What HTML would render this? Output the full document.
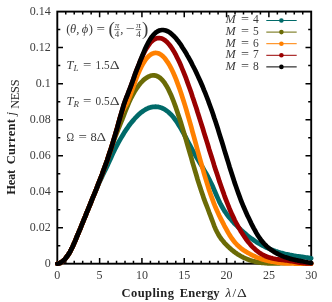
<!DOCTYPE html>
<html><head><meta charset="utf-8"><title>plot</title>
<style>html,body{margin:0;padding:0;background:#fff;width:332px;height:302px;overflow:hidden}</style></head>
<body>
<svg width="332" height="302" viewBox="0 0 332 302" style="position:absolute;left:0;top:0;will-change:transform">
<rect width="332" height="302" fill="#fff"/>
<rect x="57.3" y="11.6" width="253.9" height="252.1" fill="none" stroke="#000" stroke-width="1.9"/>
<path d="M65.76,263.7v-3.0M65.76,11.6v3.0M74.23,263.7v-3.0M74.23,11.6v3.0M82.69,263.7v-3.0M82.69,11.6v3.0M91.15,263.7v-3.0M91.15,11.6v3.0M99.62,263.7v-5.7M99.62,11.6v5.7M108.08,263.7v-3.0M108.08,11.6v3.0M116.54,263.7v-3.0M116.54,11.6v3.0M125.01,263.7v-3.0M125.01,11.6v3.0M133.47,263.7v-3.0M133.47,11.6v3.0M141.93,263.7v-5.7M141.93,11.6v5.7M150.40,263.7v-3.0M150.40,11.6v3.0M158.86,263.7v-3.0M158.86,11.6v3.0M167.32,263.7v-3.0M167.32,11.6v3.0M175.79,263.7v-3.0M175.79,11.6v3.0M184.25,263.7v-5.7M184.25,11.6v5.7M192.71,263.7v-3.0M192.71,11.6v3.0M201.18,263.7v-3.0M201.18,11.6v3.0M209.64,263.7v-3.0M209.64,11.6v3.0M218.10,263.7v-3.0M218.10,11.6v3.0M226.57,263.7v-5.7M226.57,11.6v5.7M235.03,263.7v-3.0M235.03,11.6v3.0M243.49,263.7v-3.0M243.49,11.6v3.0M251.96,263.7v-3.0M251.96,11.6v3.0M260.42,263.7v-3.0M260.42,11.6v3.0M268.88,263.7v-5.7M268.88,11.6v5.7M277.35,263.7v-3.0M277.35,11.6v3.0M285.81,263.7v-3.0M285.81,11.6v3.0M294.27,263.7v-3.0M294.27,11.6v3.0M302.74,263.7v-3.0M302.74,11.6v3.0M57.3,245.69h3.0M311.2,245.69h-3.0M57.3,227.69h5.7M311.2,227.69h-5.7M57.3,209.68h3.0M311.2,209.68h-3.0M57.3,191.67h5.7M311.2,191.67h-5.7M57.3,173.66h3.0M311.2,173.66h-3.0M57.3,155.66h5.7M311.2,155.66h-5.7M57.3,137.65h3.0M311.2,137.65h-3.0M57.3,119.64h5.7M311.2,119.64h-5.7M57.3,101.64h3.0M311.2,101.64h-3.0M57.3,83.63h5.7M311.2,83.63h-5.7M57.3,65.62h3.0M311.2,65.62h-3.0M57.3,47.61h5.7M311.2,47.61h-5.7M57.3,29.61h3.0M311.2,29.61h-3.0" stroke="#000" stroke-width="1.5" fill="none"/>
<path d="M57.3,263.7 L58.6,263.5 L59.9,263.1 L61.1,262.4 L62.4,261.5 L63.7,260.4 L65.0,259.1 L66.2,257.5 L67.5,255.8 L68.8,253.9 L70.1,251.8 L71.3,249.3 L72.6,246.7 L73.9,243.8 L75.2,240.9 L76.4,237.8 L77.7,234.8 L79.0,231.7 L80.3,228.6 L81.5,225.5 L82.8,222.3 L84.1,219.2 L85.4,216.1 L86.6,212.9 L87.9,209.8 L89.2,206.7 L90.5,203.6 L91.7,200.4 L93.0,197.3 L94.3,194.2 L95.6,191.2 L96.9,188.1 L98.1,185.2 L99.4,182.3 L100.7,179.5 L102.0,176.7 L103.2,174.1 L104.5,171.5 L105.8,168.9 L107.1,166.2 L108.3,163.5 L109.6,160.7 L110.9,157.9 L112.2,155.1 L113.4,152.4 L114.7,149.7 L116.0,147.2 L117.3,144.7 L118.5,142.4 L119.8,140.1 L121.1,137.9 L122.4,135.7 L123.6,133.7 L124.9,131.6 L126.2,129.7 L127.5,127.8 L128.7,126.0 L130.0,124.3 L131.3,122.6 L132.6,121.1 L133.9,119.6 L135.1,118.1 L136.4,116.8 L137.7,115.5 L139.0,114.3 L140.2,113.2 L141.5,112.2 L142.8,111.3 L144.1,110.4 L145.3,109.6 L146.6,108.9 L147.9,108.3 L149.2,107.8 L150.4,107.4 L151.7,107.1 L153.0,106.9 L154.3,106.8 L155.5,106.7 L156.8,106.8 L158.1,106.9 L159.4,107.2 L160.6,107.6 L161.9,108.0 L163.2,108.6 L164.5,109.3 L165.7,110.1 L167.0,111.0 L168.3,112.0 L169.6,113.2 L170.9,114.4 L172.1,115.8 L173.4,117.3 L174.7,119.0 L176.0,120.7 L177.2,122.6 L178.5,124.6 L179.8,126.7 L181.1,128.9 L182.3,131.1 L183.6,133.4 L184.9,135.8 L186.2,138.2 L187.4,140.6 L188.7,143.0 L190.0,145.4 L191.3,147.8 L192.5,150.1 L193.8,152.5 L195.1,154.7 L196.4,157.0 L197.6,159.1 L198.9,161.3 L200.2,163.4 L201.5,165.5 L202.8,167.7 L204.0,169.8 L205.3,172.1 L206.6,174.3 L207.9,176.7 L209.1,179.1 L210.4,181.7 L211.7,184.3 L213.0,187.1 L214.2,190.0 L215.5,193.0 L216.8,196.0 L218.1,198.9 L219.3,201.6 L220.6,204.2 L221.9,206.5 L223.2,208.7 L224.4,210.8 L225.7,212.7 L227.0,214.5 L228.3,216.2 L229.5,217.8 L230.8,219.3 L232.1,220.8 L233.4,222.2 L234.6,223.6 L235.9,224.9 L237.2,226.2 L238.5,227.5 L239.8,228.7 L241.0,229.9 L242.3,231.1 L243.6,232.2 L244.9,233.3 L246.1,234.4 L247.4,235.5 L248.7,236.5 L250.0,237.5 L251.2,238.4 L252.5,239.3 L253.8,240.2 L255.1,241.1 L256.3,241.9 L257.6,242.7 L258.9,243.5 L260.2,244.2 L261.4,244.9 L262.7,245.6 L264.0,246.3 L265.3,246.9 L266.5,247.6 L267.8,248.1 L269.1,248.7 L270.4,249.3 L271.6,249.8 L272.9,250.3 L274.2,250.7 L275.5,251.2 L276.8,251.6 L278.0,252.0 L279.3,252.4 L280.6,252.8 L281.9,253.1 L283.1,253.4 L284.4,253.8 L285.7,254.1 L287.0,254.3 L288.2,254.6 L289.5,254.9 L290.8,255.1 L292.1,255.3 L293.3,255.6 L294.6,255.8 L295.9,256.0 L297.2,256.2 L298.4,256.4 L299.7,256.6 L301.0,256.7 L302.3,256.9 L303.5,257.1 L304.8,257.3 L306.1,257.5 L307.4,257.6 L308.6,257.8 L309.9,258.0 L311.2,258.2" fill="none" stroke="#006a69" stroke-width="4.7" stroke-linecap="round" stroke-linejoin="round"/>
<path d="M57.3,263.7 L58.6,263.5 L59.9,263.1 L61.1,262.4 L62.4,261.5 L63.7,260.4 L65.0,259.1 L66.2,257.5 L67.5,255.8 L68.8,253.9 L70.1,251.8 L71.3,249.3 L72.6,246.7 L73.9,243.8 L75.2,240.9 L76.4,237.8 L77.7,234.8 L79.0,231.7 L80.3,228.6 L81.5,225.5 L82.8,222.3 L84.1,219.2 L85.4,216.1 L86.6,212.9 L87.9,209.8 L89.2,206.7 L90.5,203.5 L91.7,200.4 L93.0,197.2 L94.3,194.1 L95.6,190.9 L96.9,187.7 L98.1,184.4 L99.4,181.2 L100.7,177.9 L102.0,174.5 L103.2,171.1 L104.5,167.7 L105.8,164.1 L107.1,160.4 L108.3,156.6 L109.6,152.8 L110.9,148.9 L112.2,145.1 L113.4,141.6 L114.7,138.2 L116.0,134.9 L117.3,131.7 L118.5,128.5 L119.8,125.4 L121.1,122.2 L122.4,119.0 L123.6,115.8 L124.9,112.5 L126.2,109.2 L127.5,106.1 L128.7,103.1 L130.0,100.3 L131.3,97.6 L132.6,95.1 L133.9,92.8 L135.1,90.7 L136.4,88.7 L137.7,86.8 L139.0,85.1 L140.2,83.5 L141.5,82.1 L142.8,80.8 L144.1,79.6 L145.3,78.6 L146.6,77.7 L147.9,76.9 L149.2,76.3 L150.4,75.8 L151.7,75.5 L153.0,75.4 L154.3,75.4 L155.5,75.6 L156.8,76.0 L158.1,76.6 L159.4,77.4 L160.6,78.4 L161.9,79.7 L163.2,81.1 L164.5,82.8 L165.7,84.7 L167.0,86.8 L168.3,89.2 L169.6,91.9 L170.9,94.7 L172.1,97.7 L173.4,100.9 L174.7,104.3 L176.0,107.9 L177.2,111.5 L178.5,115.4 L179.8,119.3 L181.1,123.3 L182.3,127.5 L183.6,131.7 L184.9,136.0 L186.2,140.3 L187.4,144.7 L188.7,149.1 L190.0,153.5 L191.3,157.9 L192.5,162.3 L193.8,166.7 L195.1,171.0 L196.4,175.3 L197.6,179.5 L198.9,183.6 L200.2,187.6 L201.5,191.5 L202.8,195.3 L204.0,198.9 L205.3,202.4 L206.6,205.7 L207.9,209.0 L209.1,212.3 L210.4,215.6 L211.7,219.1 L213.0,222.5 L214.2,225.8 L215.5,228.9 L216.8,231.6 L218.1,234.0 L219.3,236.1 L220.6,238.0 L221.9,239.8 L223.2,241.3 L224.4,242.8 L225.7,244.1 L227.0,245.5 L228.3,246.7 L229.5,247.9 L230.8,249.0 L232.1,250.1 L233.4,251.1 L234.6,252.1 L235.9,253.0 L237.2,253.9 L238.5,254.7 L239.8,255.5 L241.0,256.2 L242.3,256.9 L243.6,257.6 L244.9,258.2 L246.1,258.7 L247.4,259.3 L248.7,259.7 L250.0,260.2 L251.2,260.6 L252.5,261.0 L253.8,261.3 L255.1,261.6 L256.3,261.9 L257.6,262.2 L258.9,262.4 L260.2,262.6 L261.4,262.8 L262.7,262.9 L264.0,263.0 L265.3,263.2 L266.5,263.2 L267.8,263.3 L269.1,263.4 L270.4,263.4 L271.6,263.4 L272.9,263.4 L274.2,263.4 L275.5,263.4 L276.8,263.4 L278.0,263.3 L279.3,263.3 L280.6,263.2 L281.9,263.2 L283.1,263.1 L284.4,263.1 L285.7,263.0 L287.0,262.9 L288.2,262.9 L289.5,262.8 L290.8,262.8 L292.1,262.7 L293.3,262.7 L294.6,262.7 L295.9,262.7 L297.2,262.7 L298.4,262.7 L299.7,262.7 L301.0,262.7 L302.3,262.8 L303.5,262.8 L304.8,262.9 L306.1,263.0 L307.4,263.2 L308.6,263.3 L309.9,263.5 L311.2,263.7" fill="none" stroke="#6b6b06" stroke-width="4.7" stroke-linecap="round" stroke-linejoin="round"/>
<path d="M57.3,263.7 L58.6,263.5 L59.9,263.1 L61.1,262.4 L62.4,261.5 L63.7,260.4 L65.0,259.1 L66.2,257.5 L67.5,255.8 L68.8,253.9 L70.1,251.8 L71.3,249.3 L72.6,246.7 L73.9,243.8 L75.2,240.9 L76.4,237.8 L77.7,234.8 L79.0,231.7 L80.3,228.6 L81.5,225.5 L82.8,222.3 L84.1,219.2 L85.4,216.1 L86.6,212.9 L87.9,209.8 L89.2,206.7 L90.5,203.5 L91.7,200.4 L93.0,197.2 L94.3,194.1 L95.6,190.9 L96.9,187.7 L98.1,184.4 L99.4,181.2 L100.7,177.9 L102.0,174.5 L103.2,171.1 L104.5,167.7 L105.8,164.1 L107.1,160.5 L108.3,156.7 L109.6,152.8 L110.9,148.9 L112.2,144.8 L113.4,140.6 L114.7,136.4 L116.0,132.0 L117.3,127.5 L118.5,122.8 L119.8,118.3 L121.1,114.5 L122.4,111.5 L123.6,109.1 L124.9,106.8 L126.2,104.6 L127.5,102.1 L128.7,99.1 L130.0,95.9 L131.3,92.4 L132.6,88.8 L133.9,85.2 L135.1,81.7 L136.4,78.2 L137.7,74.9 L139.0,71.9 L140.2,69.1 L141.5,66.5 L142.8,64.1 L144.1,62.0 L145.3,60.1 L146.6,58.4 L147.9,57.0 L149.2,55.7 L150.4,54.7 L151.7,53.9 L153.0,53.4 L154.3,53.0 L155.5,52.9 L156.8,53.0 L158.1,53.3 L159.4,53.8 L160.6,54.5 L161.9,55.4 L163.2,56.6 L164.5,57.9 L165.7,59.5 L167.0,61.3 L168.3,63.2 L169.6,65.4 L170.9,67.8 L172.1,70.3 L173.4,73.1 L174.7,76.0 L176.0,79.1 L177.2,82.4 L178.5,85.9 L179.8,89.4 L181.1,93.2 L182.3,97.0 L183.6,101.0 L184.9,105.1 L186.2,109.4 L187.4,113.7 L188.7,118.1 L190.0,122.6 L191.3,127.2 L192.5,131.8 L193.8,136.4 L195.1,141.1 L196.4,145.8 L197.6,150.5 L198.9,155.2 L200.2,159.8 L201.5,164.4 L202.8,168.9 L204.0,173.3 L205.3,177.7 L206.6,181.9 L207.9,186.0 L209.1,190.0 L210.4,193.8 L211.7,197.4 L213.0,200.9 L214.2,204.2 L215.5,207.3 L216.8,210.2 L218.1,213.1 L219.3,215.8 L220.6,218.4 L221.9,220.9 L223.2,223.4 L224.4,225.8 L225.7,228.2 L227.0,230.5 L228.3,232.8 L229.5,234.9 L230.8,236.9 L232.1,238.8 L233.4,240.5 L234.6,242.1 L235.9,243.5 L237.2,244.9 L238.5,246.1 L239.8,247.2 L241.0,248.3 L242.3,249.3 L243.6,250.2 L244.9,251.0 L246.1,251.8 L247.4,252.6 L248.7,253.3 L250.0,254.0 L251.2,254.7 L252.5,255.3 L253.8,255.9 L255.1,256.5 L256.3,257.1 L257.6,257.6 L258.9,258.1 L260.2,258.5 L261.4,259.0 L262.7,259.4 L264.0,259.8 L265.3,260.1 L266.5,260.5 L267.8,260.8 L269.1,261.1 L270.4,261.3 L271.6,261.6 L272.9,261.8 L274.2,262.0 L275.5,262.2 L276.8,262.4 L278.0,262.6 L279.3,262.7 L280.6,262.8 L281.9,263.0 L283.1,263.1 L284.4,263.2 L285.7,263.3 L287.0,263.3 L288.2,263.4 L289.5,263.4 L290.8,263.5 L292.1,263.5 L293.3,263.5 L294.6,263.6 L295.9,263.6 L297.2,263.6 L298.4,263.6 L299.7,263.6 L301.0,263.6 L302.3,263.6 L303.5,263.6 L304.8,263.6 L306.1,263.7 L307.4,263.7 L308.6,263.7 L309.9,263.7 L311.2,263.7" fill="none" stroke="#ff8000" stroke-width="4.7" stroke-linecap="round" stroke-linejoin="round"/>
<path d="M57.3,263.7 L58.6,263.5 L59.9,263.1 L61.1,262.4 L62.4,261.5 L63.7,260.4 L65.0,259.1 L66.2,257.5 L67.5,255.8 L68.8,253.9 L70.1,251.8 L71.3,249.3 L72.6,246.7 L73.9,243.8 L75.2,240.9 L76.4,237.8 L77.7,234.8 L79.0,231.7 L80.3,228.6 L81.5,225.5 L82.8,222.3 L84.1,219.2 L85.4,216.1 L86.6,212.9 L87.9,209.8 L89.2,206.7 L90.5,203.5 L91.7,200.4 L93.0,197.2 L94.3,194.1 L95.6,190.9 L96.9,187.7 L98.1,184.4 L99.4,181.2 L100.7,177.9 L102.0,174.5 L103.2,171.1 L104.5,167.7 L105.8,164.1 L107.1,160.5 L108.3,156.7 L109.6,152.8 L110.9,148.9 L112.2,144.8 L113.4,140.6 L114.7,136.4 L116.0,132.0 L117.3,127.6 L118.5,123.0 L119.8,118.4 L121.1,113.9 L122.4,109.5 L123.6,105.3 L124.9,101.5 L126.2,98.0 L127.5,94.8 L128.7,91.7 L130.0,88.4 L131.3,84.9 L132.6,81.3 L133.9,77.6 L135.1,74.1 L136.4,70.7 L137.7,67.4 L139.0,64.2 L140.2,61.1 L141.5,58.2 L142.8,55.4 L144.1,52.8 L145.3,50.3 L146.6,48.1 L147.9,46.1 L149.2,44.3 L150.4,42.7 L151.7,41.4 L153.0,40.3 L154.3,39.4 L155.5,38.8 L156.8,38.3 L158.1,38.1 L159.4,38.0 L160.6,38.2 L161.9,38.6 L163.2,39.2 L164.5,40.0 L165.7,40.9 L167.0,42.1 L168.3,43.5 L169.6,45.0 L170.9,46.7 L172.1,48.6 L173.4,50.6 L174.7,52.8 L176.0,55.2 L177.2,57.7 L178.5,60.3 L179.8,63.1 L181.1,66.0 L182.3,69.0 L183.6,72.1 L184.9,75.4 L186.2,78.7 L187.4,82.1 L188.7,85.7 L190.0,89.3 L191.3,92.9 L192.5,96.7 L193.8,100.5 L195.1,104.4 L196.4,108.3 L197.6,112.3 L198.9,116.3 L200.2,120.4 L201.5,124.4 L202.8,128.5 L204.0,132.6 L205.3,136.8 L206.6,140.9 L207.9,145.0 L209.1,149.2 L210.4,153.3 L211.7,157.3 L213.0,161.4 L214.2,165.4 L215.5,169.4 L216.8,173.3 L218.1,177.2 L219.3,181.1 L220.6,184.8 L221.9,188.5 L223.2,192.1 L224.4,195.6 L225.7,199.1 L227.0,202.4 L228.3,205.6 L229.5,208.7 L230.8,211.7 L232.1,214.6 L233.4,217.3 L234.6,220.0 L235.9,222.5 L237.2,224.9 L238.5,227.2 L239.8,229.4 L241.0,231.5 L242.3,233.5 L243.6,235.5 L244.9,237.4 L246.1,239.2 L247.4,240.9 L248.7,242.5 L250.0,244.0 L251.2,245.5 L252.5,246.8 L253.8,248.1 L255.1,249.3 L256.3,250.4 L257.6,251.4 L258.9,252.4 L260.2,253.2 L261.4,254.0 L262.7,254.7 L264.0,255.4 L265.3,256.0 L266.5,256.5 L267.8,257.0 L269.1,257.4 L270.4,257.8 L271.6,258.1 L272.9,258.5 L274.2,258.7 L275.5,259.0 L276.8,259.2 L278.0,259.4 L279.3,259.6 L280.6,259.7 L281.9,259.9 L283.1,260.0 L284.4,260.2 L285.7,260.4 L287.0,260.5 L288.2,260.7 L289.5,260.9 L290.8,261.1 L292.1,261.3 L293.3,261.5 L294.6,261.7 L295.9,262.0 L297.2,262.2 L298.4,262.4 L299.7,262.6 L301.0,262.8 L302.3,263.0 L303.5,263.1 L304.8,263.2 L306.1,263.3 L307.4,263.4 L308.6,263.5 L309.9,263.5 L311.2,263.5" fill="none" stroke="#9a0000" stroke-width="4.7" stroke-linecap="round" stroke-linejoin="round"/>
<path d="M57.3,263.7 L58.6,263.5 L59.9,263.1 L61.1,262.4 L62.4,261.5 L63.7,260.4 L65.0,259.1 L66.2,257.5 L67.5,255.8 L68.8,253.9 L70.1,251.8 L71.3,249.3 L72.6,246.7 L73.9,243.8 L75.2,240.9 L76.4,237.8 L77.7,234.8 L79.0,231.7 L80.3,228.6 L81.5,225.5 L82.8,222.3 L84.1,219.2 L85.4,216.1 L86.6,212.9 L87.9,209.8 L89.2,206.7 L90.5,203.5 L91.7,200.4 L93.0,197.2 L94.3,194.1 L95.6,190.9 L96.9,187.7 L98.1,184.4 L99.4,181.2 L100.7,177.9 L102.0,174.5 L103.2,171.1 L104.5,167.7 L105.8,164.1 L107.1,160.5 L108.3,156.7 L109.6,152.8 L110.9,148.9 L112.2,144.8 L113.4,140.6 L114.7,136.4 L116.0,132.0 L117.3,127.6 L118.5,123.0 L119.8,118.4 L121.1,113.9 L122.4,109.5 L123.6,105.3 L124.9,101.5 L126.2,98.0 L127.5,94.8 L128.7,91.7 L130.0,88.4 L131.3,84.9 L132.6,81.3 L133.9,77.6 L135.1,74.1 L136.4,70.7 L137.7,67.4 L139.0,64.1 L140.2,60.8 L141.5,57.6 L142.8,54.5 L144.1,51.4 L145.3,48.5 L146.6,45.8 L147.9,43.2 L149.2,40.9 L150.4,38.8 L151.7,37.0 L153.0,35.4 L154.3,34.0 L155.5,32.8 L156.8,31.9 L158.1,31.1 L159.4,30.5 L160.6,30.2 L161.9,30.0 L163.2,30.0 L164.5,30.2 L165.7,30.5 L167.0,31.0 L168.3,31.6 L169.6,32.4 L170.9,33.4 L172.1,34.5 L173.4,35.7 L174.7,37.0 L176.0,38.4 L177.2,40.0 L178.5,41.6 L179.8,43.4 L181.1,45.2 L182.3,47.2 L183.6,49.2 L184.9,51.2 L186.2,53.4 L187.4,55.6 L188.7,57.8 L190.0,60.2 L191.3,62.5 L192.5,65.0 L193.8,67.5 L195.1,70.0 L196.4,72.7 L197.6,75.4 L198.9,78.2 L200.2,81.0 L201.5,84.0 L202.8,87.0 L204.0,90.1 L205.3,93.2 L206.6,96.5 L207.9,99.8 L209.1,103.2 L210.4,106.7 L211.7,110.3 L213.0,114.0 L214.2,117.8 L215.5,121.6 L216.8,125.6 L218.1,129.6 L219.3,133.6 L220.6,137.7 L221.9,141.8 L223.2,146.0 L224.4,150.1 L225.7,154.3 L227.0,158.5 L228.3,162.6 L229.5,166.7 L230.8,170.7 L232.1,174.7 L233.4,178.7 L234.6,182.6 L235.9,186.3 L237.2,190.0 L238.5,193.6 L239.8,197.1 L241.0,200.5 L242.3,203.7 L243.6,206.8 L244.9,209.7 L246.1,212.6 L247.4,215.4 L248.7,218.1 L250.0,220.7 L251.2,223.3 L252.5,225.8 L253.8,228.3 L255.1,230.6 L256.3,232.9 L257.6,235.1 L258.9,237.0 L260.2,238.9 L261.4,240.6 L262.7,242.1 L264.0,243.6 L265.3,244.9 L266.5,246.2 L267.8,247.3 L269.1,248.4 L270.4,249.3 L271.6,250.3 L272.9,251.1 L274.2,251.9 L275.5,252.7 L276.8,253.4 L278.0,254.1 L279.3,254.7 L280.6,255.3 L281.9,255.9 L283.1,256.4 L284.4,256.9 L285.7,257.3 L287.0,257.7 L288.2,258.1 L289.5,258.5 L290.8,258.9 L292.1,259.2 L293.3,259.5 L294.6,259.8 L295.9,260.1 L297.2,260.3 L298.4,260.6 L299.7,260.8 L301.0,261.1 L302.3,261.3 L303.5,261.5 L304.8,261.8 L306.1,262.0 L307.4,262.3 L308.6,262.5 L309.9,262.8 L311.2,263.0" fill="none" stroke="#000000" stroke-width="4.7" stroke-linecap="round" stroke-linejoin="round"/>
<g font-family="&quot;Liberation Serif&quot;, serif" font-size="12" fill="#3c3c3c">
<text x="57.3" y="279.3" text-anchor="middle">0</text>
<text x="99.6" y="279.3" text-anchor="middle">5</text>
<text x="141.9" y="279.3" text-anchor="middle">10</text>
<text x="184.2" y="279.3" text-anchor="middle">15</text>
<text x="226.6" y="279.3" text-anchor="middle">20</text>
<text x="268.9" y="279.3" text-anchor="middle">25</text>
<text x="311.2" y="279.3" text-anchor="middle">30</text>
<text x="50.8" y="267.0" text-anchor="end">0</text>
<text x="50.8" y="231.0" text-anchor="end">0.02</text>
<text x="50.8" y="195.0" text-anchor="end">0.04</text>
<text x="50.8" y="159.0" text-anchor="end">0.06</text>
<text x="50.8" y="122.9" text-anchor="end">0.08</text>
<text x="50.8" y="86.9" text-anchor="end">0.1</text>
<text x="50.8" y="50.9" text-anchor="end">0.12</text>
<text x="50.8" y="14.9" text-anchor="end">0.14</text>
</g>
<g font-family="&quot;Liberation Serif&quot;, serif" font-size="12.5" font-weight="bold" fill="#222">
<text x="121.6" y="296.5" textLength="52.3" lengthAdjust="spacing">Coupling</text>
<text x="179.8" y="296.5" textLength="39.8" lengthAdjust="spacing">Energy</text>
<text x="225.4" y="296.5" font-weight="normal" font-style="italic" font-size="13">λ</text>
<text x="232.6" y="296.5" font-weight="normal" font-size="13">/</text>
<text x="237.0" y="296.5" font-weight="normal" font-size="12.8" textLength="9.8" lengthAdjust="spacingAndGlyphs">Δ</text>
<g transform="translate(14.6,0) rotate(-90)">
<text x="-194.7" y="0" textLength="24.9" lengthAdjust="spacing">Heat</text>
<text x="-164.3" y="0" textLength="45.2" lengthAdjust="spacing">Current</text>
<text x="-115.2" y="0" font-weight="normal" font-style="italic" font-size="11.5">j</text>
<text x="-108.8" y="4.3" font-weight="normal" font-size="12.3" textLength="29.3" lengthAdjust="spacing">NESS</text>
</g></g>
<g font-family="&quot;Liberation Serif&quot;, serif" font-size="12.5" fill="#3c3c3c">
<text x="66.3" y="33.2">(</text>
<text x="70.0" y="33.2" font-style="italic">θ</text>
<text x="76.2" y="33.2">,</text>
<text x="81.7" y="33.2" font-style="italic">ϕ</text>
<text x="88.8" y="33.2">)</text>
<text x="96.6" y="33.2" textLength="8.5" lengthAdjust="spacingAndGlyphs">=</text>
<text x="108.6" y="34.8" font-size="19">(</text>
<text x="117.0" y="27.7" font-size="9" font-style="italic" text-anchor="middle">π</text>
<text x="117.0" y="37.3" font-size="9" text-anchor="middle">4</text>
<path d="M114.3,29.6H119.7" stroke="#3c3c3c" stroke-width="0.7"/>
<text x="120.3" y="33.2">,</text>
<text x="125.6" y="33.2" textLength="8.9" lengthAdjust="spacingAndGlyphs">−</text>
<text x="138.4" y="27.7" font-size="9" font-style="italic" text-anchor="middle">π</text>
<text x="138.4" y="37.3" font-size="9" text-anchor="middle">4</text>
<path d="M135.7,29.6H141.1" stroke="#3c3c3c" stroke-width="0.7"/>
<text x="141.9" y="34.8" font-size="19">)</text>
<text x="66.6" y="69.3" font-style="italic">T</text>
<text x="73.4" y="71.0" font-style="italic" font-size="9">L</text>
<text x="83.0" y="69.3" textLength="8.4" lengthAdjust="spacingAndGlyphs">=</text>
<text x="95.6" y="69.3" textLength="14.0" lengthAdjust="spacingAndGlyphs">1.5</text>
<text x="109.8" y="69.3" font-size="13.5" textLength="9.9" lengthAdjust="spacingAndGlyphs">Δ</text>
<text x="66.6" y="104.9" font-style="italic">T</text>
<text x="73.4" y="106.6" font-style="italic" font-size="9">R</text>
<text x="83.0" y="104.9" textLength="8.4" lengthAdjust="spacingAndGlyphs">=</text>
<text x="95.6" y="104.9" textLength="14.0" lengthAdjust="spacingAndGlyphs">0.5</text>
<text x="109.8" y="104.9" font-size="13.5" textLength="9.9" lengthAdjust="spacingAndGlyphs">Δ</text>
<text x="66.4" y="141.1" textLength="7.6" lengthAdjust="spacingAndGlyphs">Ω</text>
<text x="78.6" y="141.1" textLength="8.4" lengthAdjust="spacingAndGlyphs">=</text>
<text x="90.6" y="141.1">8</text>
<text x="96.5" y="141.1" font-size="13.5" textLength="9.6" lengthAdjust="spacingAndGlyphs">Δ</text>
</g>
<g font-family="&quot;Liberation Serif&quot;, serif" font-size="11.5" fill="#3c3c3c">
<text x="225.6" y="23.4" font-style="italic" textLength="10.2" lengthAdjust="spacingAndGlyphs">M</text>
<text x="240.9" y="23.4" textLength="8.0" lengthAdjust="spacingAndGlyphs">=</text>
<text x="253.0" y="23.4">4</text>
<path d="M266.3,20.5H296.7" stroke="#006a69" stroke-width="1"/>
<circle cx="281.4" cy="20.5" r="2.3" fill="#006a69"/>
<text x="225.6" y="35.0" font-style="italic" textLength="10.2" lengthAdjust="spacingAndGlyphs">M</text>
<text x="240.9" y="35.0" textLength="8.0" lengthAdjust="spacingAndGlyphs">=</text>
<text x="253.0" y="35.0">5</text>
<path d="M266.3,32.1H296.7" stroke="#6b6b06" stroke-width="1"/>
<circle cx="281.4" cy="32.1" r="2.3" fill="#6b6b06"/>
<text x="225.6" y="46.6" font-style="italic" textLength="10.2" lengthAdjust="spacingAndGlyphs">M</text>
<text x="240.9" y="46.6" textLength="8.0" lengthAdjust="spacingAndGlyphs">=</text>
<text x="253.0" y="46.6">6</text>
<path d="M266.3,43.7H296.7" stroke="#ff8000" stroke-width="1"/>
<circle cx="281.4" cy="43.7" r="2.3" fill="#ff8000"/>
<text x="225.6" y="58.2" font-style="italic" textLength="10.2" lengthAdjust="spacingAndGlyphs">M</text>
<text x="240.9" y="58.2" textLength="8.0" lengthAdjust="spacingAndGlyphs">=</text>
<text x="253.0" y="58.2">7</text>
<path d="M266.3,55.3H296.7" stroke="#9a0000" stroke-width="1"/>
<circle cx="281.4" cy="55.3" r="2.3" fill="#9a0000"/>
<text x="225.6" y="69.8" font-style="italic" textLength="10.2" lengthAdjust="spacingAndGlyphs">M</text>
<text x="240.9" y="69.8" textLength="8.0" lengthAdjust="spacingAndGlyphs">=</text>
<text x="253.0" y="69.8">8</text>
<path d="M266.3,66.9H296.7" stroke="#000000" stroke-width="1"/>
<circle cx="281.4" cy="66.9" r="2.3" fill="#000000"/>
</g>
</svg>
</body></html>
